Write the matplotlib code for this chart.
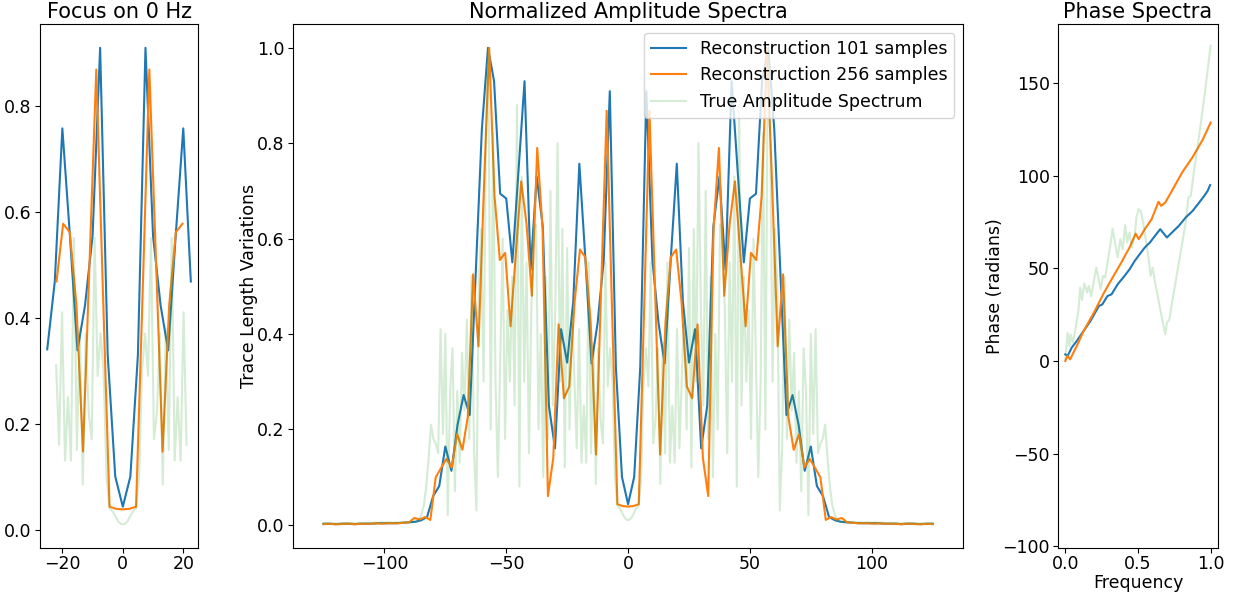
import numpy as np
import matplotlib
matplotlib.use("Agg")
import matplotlib.pyplot as plt

plt.rcParams['font.size'] = 12.5
plt.rcParams['xtick.major.pad'] = 1.5
plt.rcParams['ytick.major.pad'] = 2.5
plt.rcParams['axes.titlepad'] = 4.5

# Амплітудні спектри (нормовані), частоти від -125 до 125
recon_101 = [0.002, 0.002, 0.001, 0.002, 0.002, 0.001, 0.002, 0.002, 0.002, 0.003,
             0.003, 0.003, 0.003, 0.004, 0.005, 0.006, 0.009, 0.016, 0.060, 0.081,
             0.164, 0.113, 0.209, 0.272, 0.230, 0.530, 0.830, 1.000, 0.930, 0.694,
             0.684, 0.550, 0.740, 0.930, 0.535, 0.730, 0.625, 0.250, 0.160, 0.410,
             0.340, 0.468, 0.757, 0.555, 0.338, 0.423, 0.554, 0.909, 0.330, 0.100,
             0.043,
             0.100, 0.330, 0.909, 0.554, 0.423, 0.338, 0.555, 0.757, 0.468, 0.340,
             0.410, 0.160, 0.250, 0.625, 0.730, 0.535, 0.930, 0.740, 0.550, 0.684,
             0.694, 0.930, 1.000, 0.830, 0.530, 0.230, 0.272, 0.209, 0.113, 0.164,
             0.081, 0.060, 0.016, 0.009, 0.006, 0.005, 0.004, 0.003, 0.003, 0.003,
             0.003, 0.002, 0.002, 0.002, 0.001, 0.002, 0.002, 0.001, 0.002, 0.002]

recon_256 = [0.001, 0.002, 0.001, 0.001, 0.002, 0.002, 0.001, 0.002, 0.002, 0.002,
             0.003, 0.002, 0.003, 0.003, 0.003, 0.004, 0.005, 0.014, 0.011, 0.016,
             0.010, 0.099, 0.119, 0.138, 0.120, 0.190, 0.157, 0.226, 0.525, 0.374,
             0.700, 1.000, 0.690, 0.555, 0.570, 0.416, 0.570, 0.720, 0.630, 0.480,
             0.790, 0.620, 0.060, 0.140, 0.420, 0.265, 0.290, 0.468, 0.577, 0.561,
             0.424, 0.147, 0.510, 0.868, 0.450, 0.043, 0.039,
             0.038,
             0.039, 0.043, 0.450, 0.868, 0.510, 0.147, 0.424, 0.561, 0.577, 0.468,
             0.290, 0.265, 0.420, 0.140, 0.060, 0.620, 0.790, 0.480, 0.630, 0.720,
             0.570, 0.416, 0.570, 0.555, 0.690, 1.000, 0.700, 0.374, 0.525, 0.226,
             0.157, 0.190, 0.120, 0.138, 0.119, 0.099, 0.010, 0.016, 0.011, 0.014,
             0.005, 0.004, 0.003, 0.003, 0.003, 0.002, 0.003, 0.002, 0.002, 0.002,
             0.001, 0.002, 0.002, 0.001, 0.001, 0.002, 0.001]

# Справжній спектр: ліва половина (-125 .. 0) і права (0 .. 125)
true_amp_left = [0.003, 0.003, 0.002, 0.003, 0.003, 0.003, 0.002, 0.003, 0.003, 0.003,
                 0.003, 0.003, 0.004, 0.003, 0.003, 0.004, 0.003, 0.004, 0.004, 0.003,
                 0.004, 0.004, 0.004, 0.004, 0.005, 0.004, 0.004, 0.005, 0.005, 0.004,
                 0.005, 0.005, 0.005, 0.006, 0.005, 0.005,
                 0.005, 0.005, 0.006, 0.006, 0.010, 0.022, 0.040, 0.080, 0.140, 0.210,
                 0.180, 0.170, 0.150, 0.410, 0.190, 0.400, 0.020, 0.280, 0.370, 0.070,
                 0.280, 0.130, 0.360, 0.240, 0.430, 0.180, 0.520, 0.160, 0.030, 0.500,
                 0.620, 0.300, 0.820, 1.000, 0.200, 0.820, 0.300, 0.100, 0.350, 0.600,
                 0.180, 0.450, 0.300, 0.520, 0.250, 0.880, 0.080, 0.730, 0.300, 0.550,
                 0.150, 0.450, 0.620, 0.630, 0.200, 0.400, 0.100, 0.520, 0.180, 0.700,
                 0.250, 0.450, 0.800, 0.300, 0.620, 0.120, 0.580, 0.200, 0.450, 0.310,
                 0.160, 0.410, 0.130, 0.250, 0.130, 0.550, 0.150, 0.380, 0.085, 0.370,
                 0.220, 0.170, 0.550, 0.290, 0.370, 0.300, 0.100, 0.040, 0.035, 0.025,
                 0.015, 0.010]
true_amp_right = [0.010, 0.015,
                  0.025, 0.035, 0.040, 0.100, 0.300, 0.370, 0.290, 0.550, 0.170, 0.220,
                  0.370, 0.085, 0.380, 0.150, 0.550, 0.130, 0.250, 0.130, 0.410, 0.160,
                  0.310, 0.450, 0.200, 0.580, 0.120, 0.620, 0.300, 0.800, 0.450, 0.250,
                  0.700, 0.180, 0.520, 0.100, 0.400, 0.200, 0.630, 0.620, 0.450, 0.150,
                  0.550, 0.300, 0.730, 0.080, 0.880, 0.250, 0.520, 0.300, 0.450, 0.180,
                  0.600, 0.350, 0.100, 0.300, 0.820, 0.200, 1.000, 0.820, 0.300, 0.620,
                  0.500, 0.030, 0.160, 0.520, 0.180, 0.430, 0.240, 0.360, 0.130, 0.280,
                  0.070, 0.370, 0.280, 0.020, 0.400, 0.190, 0.410, 0.150, 0.170, 0.180,
                  0.210, 0.140, 0.080, 0.040, 0.022, 0.010, 0.006, 0.006, 0.005, 0.005,
                  0.005, 0.005, 0.006, 0.005, 0.005, 0.005,
                  0.004, 0.005, 0.005, 0.004, 0.004, 0.005, 0.004, 0.004, 0.004, 0.004,
                  0.003, 0.004, 0.004, 0.003, 0.004, 0.003, 0.003, 0.004, 0.003, 0.003,
                  0.003, 0.003, 0.003, 0.002, 0.003, 0.003, 0.003, 0.002, 0.003, 0.003]
true_amp = true_amp_left + true_amp_right

# Фазові спектри
phase_101_f = [0.0, 0.016, 0.044, 0.079, 0.126, 0.173, 0.231, 0.255, 0.290, 0.318,
               0.360, 0.407, 0.442, 0.477, 0.512, 0.547, 0.582, 0.617, 0.653, 0.699,
               0.734, 0.781, 0.828, 0.875, 0.921, 0.956, 0.980, 0.996]
phase_101 = [3.6, 2.7, 7.2, 10.8, 16.2, 21.6, 29.7, 30.6, 35.1, 36.0,
             41.4, 45.9, 49.5, 54.0, 57.7, 61.3, 64.0, 67.6, 71.2, 66.7,
             69.4, 73.0, 77.5, 81.0, 85.6, 89.2, 92.0, 95.0]

phase_256_f = [0.0, 0.016, 0.033, 0.079, 0.126, 0.196, 0.267, 0.325, 0.384, 0.442,
               0.484, 0.505, 0.547, 0.594, 0.641, 0.659, 0.688, 0.734, 0.805, 0.875,
               0.945, 1.0]
phase_256 = [0.0, 2.7, 0.9, 8.1, 16.2, 26.0, 37.0, 45.0, 53.0, 61.3,
             68.8, 65.8, 71.2, 76.6, 86.0, 83.8, 85.6, 92.0, 102.0, 110.0,
             119.5, 128.8]

phase_true_f = [0.0, 0.016, 0.028, 0.037, 0.051, 0.068, 0.091, 0.103, 0.115, 0.131,
                0.150, 0.161, 0.178, 0.196, 0.213, 0.227, 0.243, 0.260, 0.274, 0.290,
                0.309, 0.325, 0.342, 0.360, 0.379, 0.395, 0.412, 0.426, 0.442, 0.458,
                0.477, 0.489, 0.505, 0.519, 0.536, 0.554, 0.571, 0.587, 0.601, 0.618,
                0.636, 0.653, 0.671, 0.688, 0.699, 0.716, 0.734, 0.758, 0.781, 0.805,
                0.828, 0.847, 0.863, 0.887, 0.910, 0.933, 0.957, 0.980, 1.0]
phase_true = [0.9, 15.3, 8.0, 14.4, 10.0, 16.2, 28.0, 39.6, 33.0, 42.0,
              37.0, 40.5, 35.0, 43.0, 50.4, 45.0, 38.7, 46.0, 45.0, 53.0,
              62.0, 71.5, 64.0, 56.0, 65.8, 60.4, 73.3, 64.0, 69.4, 61.3,
              67.6, 77.5, 82.0, 81.0, 74.8, 64.9, 56.8, 46.0, 50.4, 42.3,
              35.0, 28.0, 20.7, 14.4, 20.7, 22.5, 31.5, 42.3, 53.0, 64.0,
              74.8, 88.3, 89.2, 103.6, 116.0, 128.8, 143.0, 157.7, 170.3]

f_101 = np.linspace(-125, 125, len(recon_101))
f_256 = np.linspace(-125, 125, len(recon_256))
f_true = np.linspace(-125, 125, len(true_amp))

fig = plt.figure(figsize=(12.36, 5.94), dpi=100)
ax_zoom = fig.add_axes([0.0324, 0.0774, 0.1278, 0.8822])
ax_amp = fig.add_axes([0.2371, 0.0774, 0.5421, 0.8822])
ax_phase = fig.add_axes([0.856, 0.0774, 0.1294, 0.8822])

# Середня панель
ax_amp.plot(f_101, recon_101, color='C0', label='Reconstruction 101 samples')
ax_amp.plot(f_256, recon_256, color='C1', label='Reconstruction 256 samples')
ax_amp.plot(f_true, true_amp, color='C2', alpha=0.2, label='True Amplitude Spectrum')
ax_amp.set_title('Normalized Amplitude Spectra')
ax_amp.set_ylabel('Trace Length Variations', labelpad=-1)
ax_amp.legend(loc='upper right')

# Ліва панель: околиця 0 Гц
m101 = (f_101 > -25.5) & (f_101 < 23)
m256 = (f_256 > -22.5) & (f_256 < 21)
mtrue = (f_true > -22.5) & (f_true < 21.5)
ax_zoom.plot(f_101[m101], np.array(recon_101)[m101], color='C0')
ax_zoom.plot(f_256[m256], np.array(recon_256)[m256], color='C1')
ax_zoom.plot(f_true[mtrue], np.array(true_amp)[mtrue], color='C2', alpha=0.2)
ax_zoom.set_title('Focus on 0 Hz')

# Права панель: фази
ax_phase.plot(phase_101_f, phase_101, color='C0')
ax_phase.plot(phase_256_f, phase_256, color='C1')
ax_phase.plot(phase_true_f, phase_true, color='C2', alpha=0.2)
ax_phase.set_ylim(-101, 182)
ax_phase.set_title('Phase Spectra')
ax_phase.set_xlabel('Frequency', labelpad=1)
ax_phase.set_ylabel('Phase (radians)', labelpad=-1)

fig.savefig('out.png', dpi=100)
